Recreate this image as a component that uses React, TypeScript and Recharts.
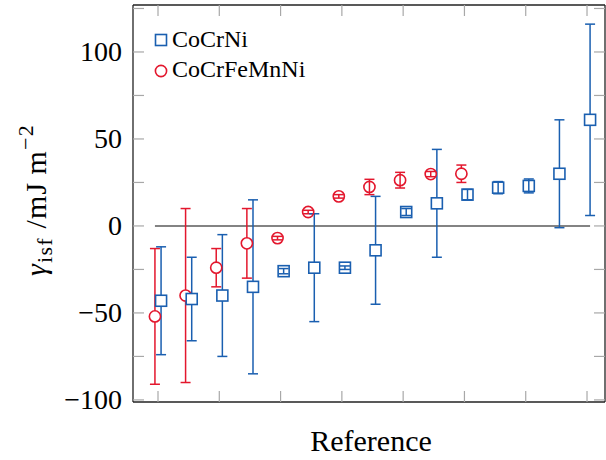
import { ScatterChart, Scatter, XAxis, YAxis, ErrorBar, ReferenceLine } from "recharts";

// CoCrNi (squares) and CoCrFeMnNi (circles), one entry per reference
const cocrniValues = [-43, -42, -40, -35, -26, -24, -24, -14, 8, 13, 18, 22, 23, 30, 61];
const cocrniErrors = [31, 24, 35, 50, 1.5, 31, 1, 31, 2, 31, 3, 3.5, 4, 31, 55];
const cantorValues = [-52, -40, -24, -10, -7, 8, 17, 22.4, 26.3, 29.8, 30];
const cantorErrors = [39, 50, 11, 20, 1, 1, 1, 4.4, 4.5, 1.5, 5];

const seriesNames = ["CoCrNi", "CoCrFeMnNi"];
const xTicks = [0, 2, 4, 6, 8, 10, 12, 14];
const yTicks = [-100, -75, -50, -25, 0, 25, 50, 75, 100, 125];
const yLabelled = [-100, -50, 0, 50, 100];

const BLUE = "#1a5fb0";
const RED = "#e3172d";
const FONT = "'Liberation Serif', 'Times New Roman', serif";
const TICK = "#a8a8a8";
const DODGE = 0.1;

const cocrniData = cocrniValues.map((v, i) => ({ x: i + DODGE, y: v, err: cocrniErrors[i] }));
const cantorData = cantorValues.map((v, i) => ({ x: i - DODGE, y: v, err: cantorErrors[i] }));

const fmt = (v: number) => (v < 0 ? `\u2212${Math.abs(v)}` : `${v}`);

function SquareMark(props: any) {
  const { cx, cy, payload } = props;
  const fill = payload.err < 5 ? "none" : "#fff";
  return <rect x={cx - 5.5} y={cy - 5.5} width={11} height={11} fill={fill} stroke={BLUE} strokeWidth={1.6} />;
}

function CircleMark(props: any) {
  const { cx, cy, payload } = props;
  const fill = payload.err < 5 ? "none" : "#fff";
  return <circle cx={cx} cy={cy} r={5.6} fill={fill} stroke={RED} strokeWidth={1.6} />;
}

const leftTick = (p: any) => {
  const v = p.payload.value;
  return (
    <g>
      <line x1={p.x} y1={p.y} x2={p.x + 11} y2={p.y} stroke={TICK} strokeWidth={1.2} />
      {yLabelled.includes(v) && (
        <text x={p.x - 11} y={p.y + 9.5} textAnchor="end" fontFamily={FONT} fontSize={28} fill="#000">
          {fmt(v)}
        </text>
      )}
    </g>
  );
};
const rightTick = (p: any) => (
  <line x1={p.x} y1={p.y} x2={p.x - 11} y2={p.y} stroke={TICK} strokeWidth={1.2} />
);
const bottomTick = (p: any) => (
  <line x1={p.x} y1={p.y} x2={p.x} y2={p.y - 11} stroke={TICK} strokeWidth={1.2} />
);
const topTick = (p: any) => (
  <line x1={p.x} y1={p.y} x2={p.x} y2={p.y + 11} stroke={TICK} strokeWidth={1.2} />
);

const YTitle = () => (
  <text
    x={46}
    y={200}
    transform="rotate(-90, 46, 200)"
    textAnchor="middle"
    fontFamily={FONT}
    fontSize={30}
    letterSpacing={1.2}
    fill="#000"
  >
    <tspan fontStyle="italic">γ</tspan>
    <tspan fontSize={22} dy={6}>isf</tspan>
    <tspan dy={-6}>{" /mJ\u2009m"}</tspan>
    <tspan fontSize={22} dy={-13}>{"\u2212"}2</tspan>
  </text>
);

const XTitle = () => (
  <text x={371} y={451} textAnchor="middle" fontFamily={FONT} fontSize={30} fill="#000">
    Reference
  </text>
);

const axisLine = { stroke: "#222", strokeWidth: 1.3 };

export default function App() {
  return (
    <div style={{ position: "absolute", left: 0, top: 0, width: 606, height: 460, background: "#fff" }}>
      <ScatterChart width={606} height={460} margin={{ top: 0, right: 0, bottom: 0, left: 0 }}>
        <XAxis
          xAxisId="b"
          type="number"
          dataKey="x"
          orientation="bottom"
          domain={[-0.816, 14.587]}
          ticks={xTicks}
          interval={0}
          allowDataOverflow
          height={58}
          tickSize={0}
          tickMargin={0}
          tickLine={false}
          tick={bottomTick}
          axisLine={axisLine}
          label={{ content: () => <XTitle /> }}
        />
        <XAxis
          xAxisId="t"
          type="number"
          dataKey="x"
          orientation="top"
          domain={[-0.816, 14.587]}
          ticks={xTicks}
          interval={0}
          allowDataOverflow
          height={5}
          tickSize={0}
          tickMargin={0}
          tickLine={false}
          tick={topTick}
          axisLine={axisLine}
        />
        <YAxis
          yAxisId="l"
          type="number"
          dataKey="y"
          orientation="left"
          domain={[-101.2, 127]}
          ticks={yTicks}
          interval={0}
          allowDataOverflow
          width={133}
          tickSize={0}
          tickMargin={0}
          tickLine={false}
          tick={leftTick}
          axisLine={axisLine}
          label={{ content: () => <YTitle /> }}
        />
        <YAxis
          yAxisId="r"
          type="number"
          dataKey="y"
          orientation="right"
          domain={[-101.2, 127]}
          ticks={yTicks}
          interval={0}
          allowDataOverflow
          width={1}
          tickSize={0}
          tickMargin={0}
          tickLine={false}
          tick={rightTick}
          axisLine={axisLine}
        />
        <ReferenceLine
          xAxisId="b"
          yAxisId="l"
          segment={[{ x: -DODGE, y: 0 }, { x: cocrniValues.length - 1 + DODGE, y: 0 }]}
          stroke="#5a5a5a"
          strokeWidth={1.5}
        />
        <Scatter
          name={seriesNames[1]}
          data={cantorData}
          xAxisId="b"
          yAxisId="l"
          shape={(p: any) => <CircleMark {...p} />}
          isAnimationActive={false}
        >
          <ErrorBar dataKey="err" direction="y" width={5} stroke={RED} strokeWidth={1.5} />
        </Scatter>
        <Scatter
          name={seriesNames[0]}
          data={cocrniData}
          xAxisId="b"
          yAxisId="l"
          shape={(p: any) => <SquareMark {...p} />}
          isAnimationActive={false}
        >
          <ErrorBar dataKey="err" direction="y" width={5} stroke={BLUE} strokeWidth={1.5} />
        </Scatter>
        {/* phantom series so the top and right frame axes are drawn */}
        <Scatter data={[]} xAxisId="t" yAxisId="r" isAnimationActive={false} legendType="none" />
      </ScatterChart>
      <svg width={360} height={90} style={{ position: "absolute", left: 0, top: 0, pointerEvents: "none" }}>
        <rect x={155.5} y={34.5} width={11} height={11} fill="#fff" stroke={BLUE} strokeWidth={1.6} />
        <text x={172} y={47} fontFamily={FONT} fontSize={24} fill="#000">{seriesNames[0]}</text>
        <circle cx={161} cy={71} r={5.6} fill="#fff" stroke={RED} strokeWidth={1.6} />
        <text x={172} y={77} fontFamily={FONT} fontSize={24} fill="#000">{seriesNames[1]}</text>
      </svg>
    </div>
  );
}
